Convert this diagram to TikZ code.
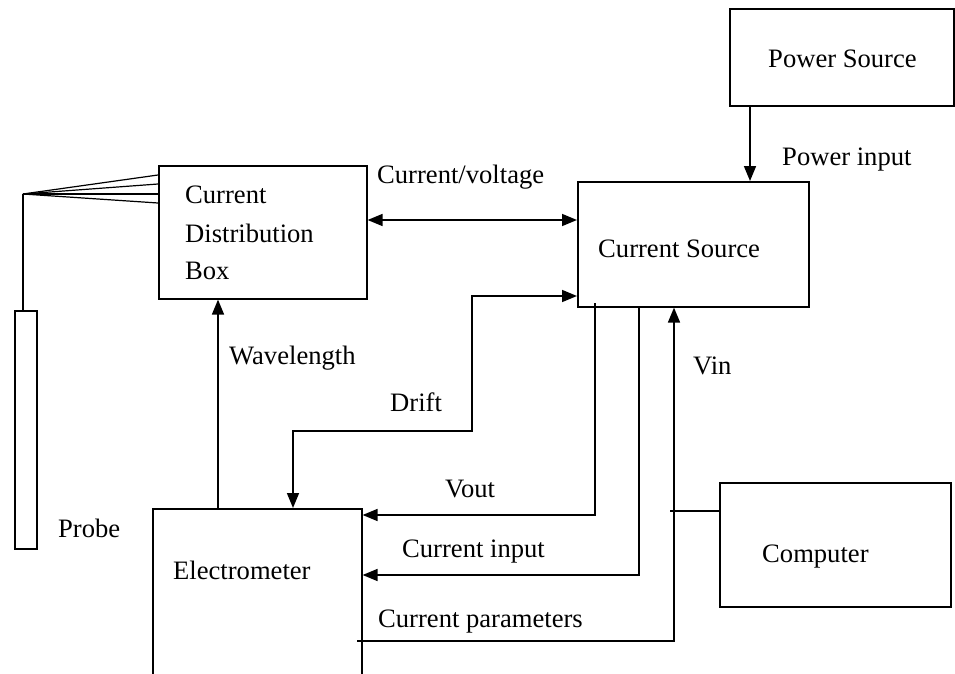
\documentclass[tikz,border=0pt]{standalone}
\usepackage{fontspec}
\setmainfont{Liberation Serif}
\usetikzlibrary{arrows.meta}
\begin{document}
\begin{tikzpicture}[x=1pt,y=-1pt,
  box/.style={draw,line width=1.6pt,rectangle,inner sep=0pt,anchor=north west},
  lbl/.style={anchor=base west,inner sep=0pt,font=\fontsize{26.6}{30}\selectfont},
  conn/.style={line width=1.6pt},
  arr/.style={conn,-{Triangle[length=15pt,width=12pt]}},
  darr/.style={conn,{Triangle[length=15pt,width=12pt]}-{Triangle[length=15pt,width=12pt]}}]
\useasboundingbox (0,0) rectangle (955,674);
\clip (0,0) rectangle (955,674);
% boxes
\node[box,minimum width=224pt,minimum height=97pt] (ps) at (729,8) {};
\node[box,minimum width=208pt,minimum height=133pt] (cdb) at (158,165) {};
\node[box,minimum width=231pt,minimum height=125pt] (cs) at (577,181) {};
\node[box,minimum width=22pt,minimum height=238pt] (probe) at (14,310) {};
\node[box,minimum width=209pt,minimum height=190pt] (em) at (152,508) {};
\node[box,minimum width=231pt,minimum height=124pt] (comp) at (719,482) {};
% box texts
\node[lbl] (tps) at (768,68) {Power Source};
\node[lbl] (tcdb1) at (185,203) {Current};
\node[lbl] (tcdb2) at (185,242) {Distribution};
\node[lbl] (tcdb3) at (185,279) {Box};
\node[lbl] (tcs) at (598,257) {Current Source};
\node[lbl] (tprobe) at (58,537) {Probe};
\node[lbl] (tem) at (173,579) {Electrometer};
\node[lbl] (tcomp) at (762,562) {Computer};
% connector labels
\node[lbl] (lpin) at (782,165) {Power input};
\node[lbl] (lcv) at (377,183) {Current/voltage};
\node[lbl] (lwl) at (229,364) {Wavelength};
\node[lbl] (ldrift) at (390,411) {Drift};
\node[lbl] (lvin) at (693,374) {Vin};
\node[lbl] (lvout) at (445,497) {Vout};
\node[lbl] (lci) at (402,557) {Current input};
\node[lbl] (lcp) at (378,627) {Current parameters};
% helper coordinates
\coordinate (fan) at (23,194);
\coordinate (xpin) at (750,0);
\coordinate (ycv) at (0,220);
\coordinate (xwl) at (218,0);
\coordinate (xdr) at (293,0);
\coordinate (dr1) at (472,431);
\coordinate (ydr) at (0,296);
\coordinate (vo1) at (595,303);
\coordinate (vo2) at (595,515);
\coordinate (ci1) at (639,306);
\coordinate (ci2) at (639,575);
\coordinate (cp0) at (357,641);
\coordinate (cp1) at (674,641);
\coordinate (cmp0) at (670,511);
% connectors
\draw[arr] (xpin |- ps.south) -- (xpin |- cs.north);
\draw[darr] (cdb.east |- ycv) -- (cs.west |- ycv);
\foreach \yy in {175,184,194,203}
  \draw[line width=1.2pt] (fan) -- (cdb.west |- 0,\yy);
\draw[conn] (fan) -- (probe.north -| fan);
\draw[arr] (xwl |- em.north) -- (xwl |- cdb.south);
\draw[darr] (xdr |- em.north) -- (xdr |- dr1) -- (dr1) -- (dr1 |- ydr) -- (cs.west |- ydr);
\draw[arr] (vo1) -- (vo2) -- (em.east |- vo2);
\draw[arr] (ci1) -- (ci2) -- (em.east |- ci2);
\draw[arr] (cp0) -- (cp1) -- (cp1 |- cs.south);
\draw[conn] (cmp0) -- (comp.west |- cmp0);
\end{tikzpicture}
\end{document}
